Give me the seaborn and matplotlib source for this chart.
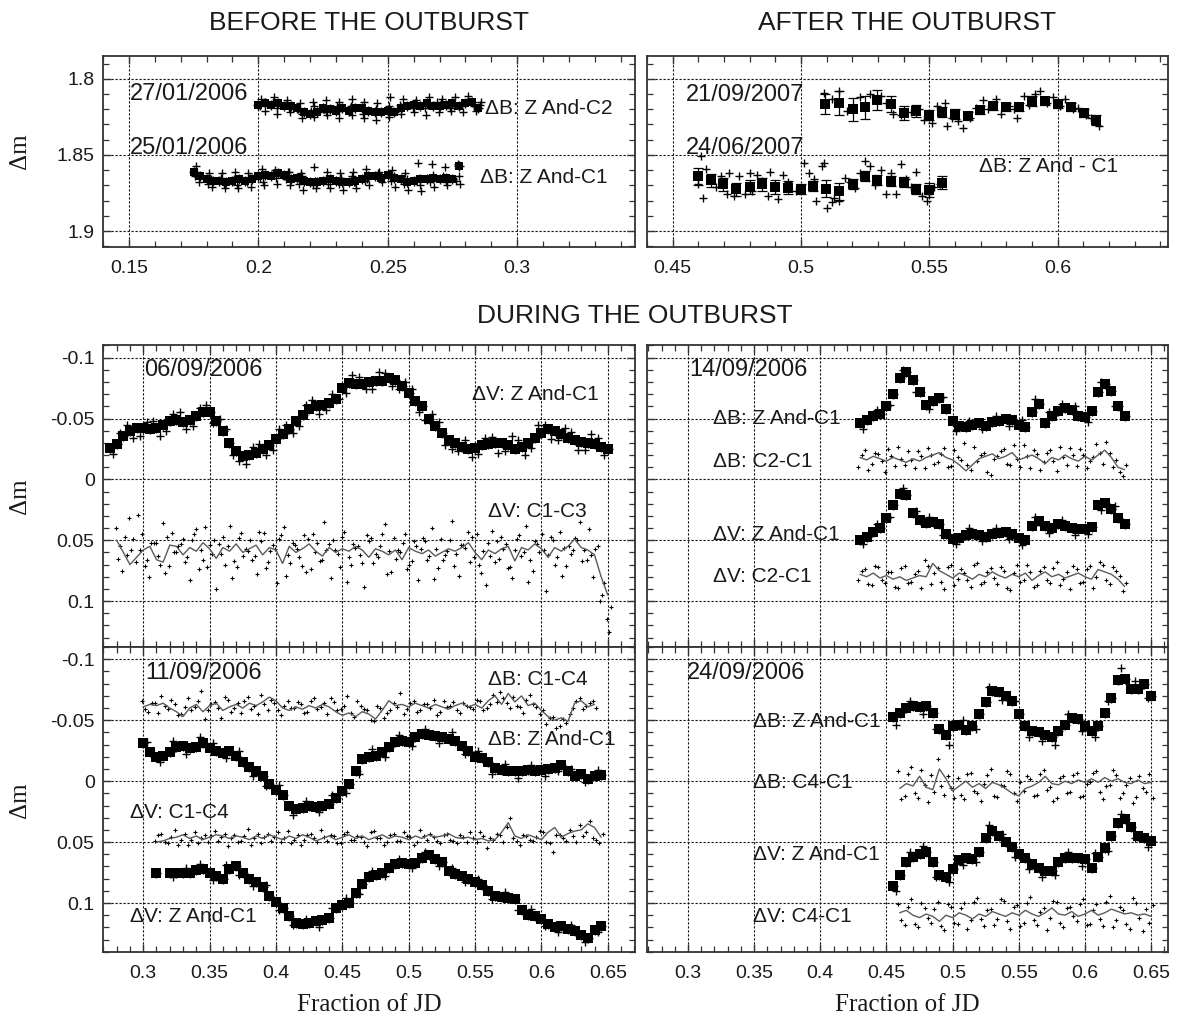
import numpy as np
import matplotlib
matplotlib.use("Agg")
import matplotlib.pyplot as plt
import seaborn as sns
from matplotlib.ticker import MultipleLocator, FuncFormatter

# ---------------- DATA ----------------
# Top-left (before the outburst)
tl_a_y = [1.817, 1.816, 1.817, 1.816, 1.818, 1.818, 1.819, 1.822, 1.823, 1.822,
          1.819, 1.820, 1.821, 1.819, 1.821, 1.819, 1.819, 1.821, 1.822, 1.822,
          1.821, 1.822, 1.819, 1.818, 1.817, 1.818, 1.816, 1.818, 1.818, 1.817,
          1.816, 1.818, 1.816, 1.815, 1.819]
tl_a_hi = [1.813, 1.812, 1.814, 1.816, 1.815, 1.814, 1.815, 1.813, 1.815, 1.816,
           1.812, 1.813, 1.814, 1.812, 1.813, 1.812, 1.811, 1.815]
tl_a_lo = [1.821, 1.823, 1.822, 1.826, 1.825, 1.824, 1.826, 1.824, 1.826, 1.827,
           1.825, 1.823, 1.822, 1.824, 1.822, 1.821, 1.822, 1.821]
tl_a_m1 = [1.818, 1.815, 1.817, 1.820, 1.821, 1.820, 1.818, 1.819, 1.820, 1.821,
           1.818, 1.819, 1.816, 1.817, 1.816, 1.818, 1.815, 1.817]
tl_a_m2 = [1.815, 1.819, 1.819, 1.823, 1.818, 1.822, 1.821, 1.818, 1.823, 1.820,
           1.821, 1.817, 1.819, 1.819, 1.815, 1.819, 1.817, 1.818]
tl_b_y = [1.861, 1.864, 1.866, 1.867, 1.867, 1.868, 1.867, 1.866, 1.867, 1.866,
          1.864, 1.863, 1.864, 1.862, 1.863, 1.866, 1.865, 1.867, 1.868, 1.868,
          1.867, 1.866, 1.867, 1.868, 1.868, 1.867, 1.866, 1.864, 1.864, 1.865,
          1.863, 1.865, 1.866, 1.868, 1.867, 1.866, 1.866, 1.865, 1.866, 1.865,
          1.866, 1.857]
tl_b_hi = [1.857, 1.862, 1.862, 1.861, 1.862, 1.859, 1.860, 1.861, 1.862, 1.858,
           1.861, 1.862, 1.861, 1.859, 1.861, 1.860, 1.862, 1.855, 1.856, 1.858, 1.856]
tl_b_lo = [1.868, 1.871, 1.872, 1.872, 1.871, 1.870, 1.869, 1.870, 1.873, 1.872,
           1.872, 1.873, 1.872, 1.870, 1.868, 1.871, 1.873, 1.874, 1.871, 1.870, 1.869]
tl_b_m1 = [1.864, 1.869, 1.865, 1.866, 1.868, 1.865, 1.862, 1.866, 1.869, 1.870,
           1.866, 1.869, 1.864, 1.867, 1.862, 1.867, 1.869, 1.866, 1.868, 1.864, 1.867]
tl_b_m2 = [1.862, 1.866, 1.869, 1.870, 1.865, 1.868, 1.865, 1.861, 1.864, 1.867,
           1.869, 1.865, 1.868, 1.866, 1.865, 1.864, 1.866, 1.870, 1.863, 1.868, 1.864]

# Top-right (after the outburst)
tr_c_x = [0.5094, 0.5149, 0.5201, 0.5250, 0.5298, 0.5349, 0.5402, 0.5450, 0.5500, 0.5551,
          0.5602, 0.5651, 0.5699, 0.5750, 0.5800, 0.5851, 0.5899, 0.5950, 0.6000, 0.6051,
          0.6101, 0.6151]
tr_c_y = [1.8166, 1.8159, 1.8199, 1.8186, 1.8138, 1.8166, 1.8225, 1.8214, 1.8236, 1.8220,
          1.8229, 1.8242, 1.8203, 1.8177, 1.8186, 1.8186, 1.8144, 1.8144, 1.8166, 1.8186,
          1.8225, 1.8273]
tr_c_err = [0.0066, 0.0076, 0.0076, 0.0076, 0.0066, 0.0055, 0.0044, 0.0040, 0.0033, 0.0033,
            0.0033, 0.0026, 0.0026, 0.0026, 0.0026, 0.0026, 0.0033, 0.0026, 0.0026, 0.0026,
            0.0026, 0.0033]
tr_d_x = [0.4598, 0.4649, 0.4697, 0.4746, 0.4801, 0.4848, 0.4898, 0.4949, 0.5000, 0.5047,
          0.5098, 0.5149, 0.5201, 0.5250, 0.5298, 0.5349, 0.5402, 0.5450, 0.5500, 0.5551]
tr_d_y = [1.8640, 1.8668, 1.8694, 1.8727, 1.8710, 1.8694, 1.8710, 1.8716, 1.8727, 1.8705,
          1.8723, 1.8738, 1.8694, 1.8640, 1.8662, 1.8672, 1.8677, 1.8723, 1.8731, 1.8683]
tr_d_err = [0.0055, 0.0040, 0.0044, 0.0040, 0.0044, 0.0044, 0.0044, 0.0044, 0.0033, 0.0033,
            0.0055, 0.0055, 0.0033, 0.0033, 0.0033, 0.0033, 0.0033, 0.0033, 0.0044, 0.0044]
tr_c_px = [0.509, 0.512, 0.515, 0.518, 0.523, 0.527, 0.531, 0.533, 0.536, 0.539, 0.543, 0.546,
           0.548, 0.551, 0.553, 0.556, 0.557, 0.559, 0.561, 0.563, 0.566, 0.568, 0.571, 0.573,
           0.576, 0.578, 0.581, 0.583, 0.584, 0.587, 0.589, 0.591, 0.593, 0.596, 0.598, 0.601,
           0.603, 0.606, 0.608, 0.611, 0.613, 0.616]
tr_c_py = [1.809, 1.813, 1.808, 1.821, 1.812, 1.810, 1.811, 1.816, 1.823, 1.824, 1.822, 1.820,
           1.827, 1.829, 1.818, 1.816, 1.831, 1.826, 1.828, 1.832, 1.826, 1.819, 1.814, 1.820,
           1.813, 1.823, 1.818, 1.820, 1.826, 1.811, 1.817, 1.810, 1.808, 1.816, 1.812, 1.818,
           1.813, 1.820, 1.819, 1.824, 1.826, 1.831]
tr_d_px = [0.460, 0.461, 0.462, 0.463, 0.465, 0.467, 0.469, 0.471, 0.472, 0.474, 0.476, 0.478,
           0.480, 0.481, 0.483, 0.485, 0.487, 0.488, 0.490, 0.491, 0.493, 0.495, 0.498, 0.501,
           0.503, 0.505, 0.506, 0.508, 0.509, 0.510, 0.512, 0.513, 0.515, 0.517, 0.519, 0.521,
           0.523, 0.525, 0.527, 0.529, 0.531, 0.533, 0.535, 0.537, 0.539, 0.541, 0.543, 0.545,
           0.547, 0.549, 0.550, 0.552, 0.554]
tr_d_py = [1.869, 1.851, 1.878, 1.859, 1.866, 1.871, 1.864, 1.876, 1.862, 1.877, 1.864, 1.876,
           1.862, 1.874, 1.863, 1.867, 1.877, 1.861, 1.872, 1.879, 1.863, 1.868, 1.874, 1.855,
           1.862, 1.866, 1.880, 1.857, 1.855, 1.885, 1.881, 1.878, 1.880, 1.865, 1.868, 1.872,
           1.862, 1.854, 1.857, 1.870, 1.860, 1.876, 1.862, 1.876, 1.856, 1.866, 1.871, 1.861,
           1.877, 1.880, 1.876, 1.871, 1.869]

# Middle-left 06/09/2006
ml_vz_y = [-0.026, -0.029, -0.036, -0.040, -0.042, -0.042, -0.041, -0.042, -0.045, -0.048,
           -0.049, -0.047, -0.049, -0.052, -0.055, -0.055, -0.048, -0.040, -0.030, -0.023,
           -0.019, -0.020, -0.022, -0.025, -0.028, -0.033, -0.037, -0.041, -0.048, -0.053,
           -0.058, -0.060, -0.061, -0.063, -0.066, -0.075, -0.079, -0.078, -0.078, -0.080,
           -0.081, -0.081, -0.083, -0.082, -0.077, -0.071, -0.064, -0.060, -0.050, -0.044,
           -0.038, -0.032, -0.030, -0.027, -0.025, -0.026, -0.028, -0.029, -0.030, -0.030,
           -0.028, -0.025, -0.027, -0.030, -0.034, -0.038, -0.041, -0.040, -0.037, -0.034,
           -0.032, -0.031, -0.030, -0.029, -0.027, -0.025]
ml_vz_p1 = [-0.021, -0.045, -0.036, -0.048, -0.040, -0.055, -0.044, -0.061, -0.050, -0.020,
            -0.013, -0.029, -0.024, -0.045, -0.044, -0.065, -0.057, -0.066, -0.086, -0.074,
            -0.088, -0.077, -0.080, -0.055, -0.054, -0.028, -0.023, -0.018, -0.034, -0.022,
            -0.036, -0.020, -0.045, -0.033, -0.042, -0.024, -0.037, -0.020]
ml_vz_p2 = [-0.038, -0.034, -0.047, -0.036, -0.054, -0.041, -0.059, -0.046, -0.041, -0.015,
            -0.027, -0.020, -0.041, -0.038, -0.061, -0.054, -0.070, -0.071, -0.084, -0.074,
            -0.087, -0.074, -0.074, -0.049, -0.047, -0.025, -0.032, -0.021, -0.035, -0.023,
            -0.032, -0.026, -0.045, -0.032, -0.039, -0.024, -0.034]
ml_c13_line = [0.050, 0.060, 0.070, 0.064, 0.058, 0.055, 0.066, 0.068, 0.054, 0.055,
               0.062, 0.056, 0.059, 0.052, 0.057, 0.065, 0.056, 0.059, 0.053, 0.060,
               0.057, 0.054, 0.062, 0.056, 0.058, 0.069, 0.055, 0.060, 0.057, 0.053,
               0.059, 0.063, 0.056, 0.060, 0.057, 0.059, 0.055, 0.058, 0.064, 0.057,
               0.059, 0.062, 0.058, 0.066, 0.056, 0.059, 0.061, 0.058, 0.063, 0.060,
               0.057, 0.059, 0.056, 0.052, 0.060, 0.066, 0.058, 0.061, 0.057, 0.055,
               0.067, 0.056, 0.058, 0.053, 0.057, 0.064, 0.056, 0.059, 0.055, 0.049,
               0.056, 0.058, 0.062, 0.080, 0.095]
ml_c13_da = [0.040, 0.075, 0.032, 0.068, 0.045, 0.080, 0.052, 0.036, 0.071, 0.060,
             0.049, 0.083, 0.041, 0.066, 0.054, 0.090, 0.047, 0.038, 0.072, 0.063,
             0.050, 0.078, 0.044, 0.059, 0.085, 0.039, 0.069, 0.057, 0.046, 0.074,
             0.052, 0.035, 0.081, 0.061, 0.043, 0.070, 0.055, 0.088, 0.048, 0.064,
             0.037, 0.076, 0.058, 0.045, 0.067, 0.083, 0.051, 0.040, 0.073, 0.062,
             0.034, 0.079, 0.056, 0.047, 0.070, 0.087, 0.042, 0.065, 0.053, 0.081,
             0.046, 0.038, 0.075, 0.060, 0.092, 0.050, 0.043, 0.071, 0.058, 0.035,
             0.066, 0.080, 0.100, 0.115]
ml_c13_db = [0.065, 0.047, 0.058, 0.029, 0.071, 0.052, 0.063, 0.077, 0.044, 0.055,
             0.068, 0.050, 0.074, 0.039, 0.061, 0.053, 0.070, 0.081, 0.048, 0.057,
             0.066, 0.043, 0.073, 0.054, 0.049, 0.079, 0.052, 0.064, 0.076, 0.045,
             0.067, 0.058, 0.050, 0.072, 0.084, 0.053, 0.062, 0.046, 0.069, 0.055,
             0.078, 0.048, 0.060, 0.074, 0.051, 0.057, 0.066, 0.082, 0.049, 0.059,
             0.071, 0.054, 0.043, 0.064, 0.077, 0.052, 0.068, 0.047, 0.073, 0.058,
             0.063, 0.084, 0.051, 0.045, 0.062, 0.070, 0.079, 0.055, 0.048, 0.067,
             0.041, 0.057, 0.095, 0.125]
ml_c13_dc = [0.055, 0.062, 0.049, 0.058, 0.066, 0.052, 0.070, 0.047, 0.060, 0.053,
             0.064, 0.045, 0.058, 0.072, 0.050, 0.061, 0.055, 0.067, 0.044, 0.059,
             0.063, 0.051, 0.068, 0.057, 0.046, 0.062, 0.054, 0.071, 0.049, 0.060,
             0.066, 0.053, 0.058, 0.047, 0.064, 0.056, 0.069, 0.051, 0.061, 0.045,
             0.059, 0.065, 0.052, 0.070, 0.055, 0.048, 0.063, 0.057, 0.066, 0.050,
             0.061, 0.054, 0.068, 0.045, 0.059, 0.063, 0.051, 0.057, 0.072, 0.049,
             0.060, 0.066, 0.053, 0.058, 0.047, 0.064, 0.056, 0.061, 0.050, 0.058,
             0.062, 0.055, 0.085, 0.105]

# Middle-right 14/09/2006
mr_bz_y = [-0.046, -0.049, -0.052, -0.054, -0.060, -0.070, -0.083, -0.088, -0.082, -0.072,
           -0.061, -0.064, -0.067, -0.058, -0.048, -0.044, -0.043, -0.045, -0.046, -0.044,
           -0.047, -0.048, -0.050, -0.049, -0.045, -0.043, -0.055, -0.062, -0.046, -0.052,
           -0.056, -0.059, -0.057, -0.052, -0.051, -0.056, -0.072, -0.078, -0.073, -0.060,
           -0.052]
mr_bz_p = [-0.041, -0.057, -0.061, -0.090, -0.072, -0.058, -0.068, -0.040, -0.048, -0.041,
           -0.052, -0.044, -0.049, -0.066, -0.055, -0.062, -0.060, -0.047, -0.080, -0.060]
mr_bc_line = [-0.018, -0.016, -0.019, -0.017, -0.015, -0.018, -0.016, -0.014, -0.017, -0.015,
              -0.018, -0.020, -0.022, -0.018, -0.016, -0.012, -0.007, -0.012, -0.017, -0.019,
              -0.021, -0.017, -0.019, -0.022, -0.016, -0.018, -0.020, -0.017, -0.013, -0.018,
              -0.016, -0.020, -0.017, -0.015, -0.019, -0.016, -0.020, -0.024, -0.018, -0.010,
              -0.008]
mr_bc_da = [-0.010, -0.024, -0.013, -0.021, -0.006, -0.019, -0.027, -0.012, -0.016, -0.023,
            -0.009, -0.020, -0.014, -0.026, -0.011, -0.018, -0.030, -0.008, -0.015, -0.022,
            -0.004, -0.019, -0.025, -0.012, -0.017, -0.028, -0.009, -0.021, -0.014, -0.024,
            -0.007, -0.018, -0.026, -0.011, -0.020, -0.015, -0.029, -0.013, -0.022, -0.016,
            -0.003]
mr_bc_db = [-0.020, -0.008, -0.022, -0.015, -0.025, -0.011, -0.017, -0.023, -0.009, -0.019,
            -0.026, -0.013, -0.021, -0.010, -0.024, -0.016, -0.012, -0.027, -0.020, -0.006,
            -0.017, -0.023, -0.013, -0.028, -0.010, -0.019, -0.024, -0.008, -0.022, -0.015,
            -0.027, -0.012, -0.020, -0.025, -0.009, -0.018, -0.022, -0.031, -0.010, -0.006,
            -0.012]
mr_vz_y = [0.050, 0.047, 0.043, 0.040, 0.032, 0.021, 0.012, 0.013, 0.028, 0.033,
           0.036, 0.035, 0.037, 0.045, 0.049, 0.048, 0.046, 0.045, 0.046, 0.047,
           0.045, 0.044, 0.043, 0.045, 0.048, 0.050, 0.038, 0.034, 0.038, 0.040,
           0.037, 0.038, 0.040, 0.041, 0.041, 0.039, 0.021, 0.019, 0.024, 0.032,
           0.037]
mr_vz_p = [0.053, 0.037, 0.031, 0.007, 0.026, 0.031, 0.046, 0.053, 0.040, 0.051,
           0.040, 0.049, 0.054, 0.031, 0.044, 0.033, 0.046, 0.045, 0.025, 0.022]
mr_vc_line = [0.078, 0.080, 0.077, 0.081, 0.079, 0.082, 0.080, 0.083, 0.081, 0.079,
              0.080, 0.069, 0.075, 0.078, 0.081, 0.077, 0.079, 0.082, 0.078, 0.080,
              0.076, 0.079, 0.081, 0.078, 0.080, 0.077, 0.083, 0.079, 0.076, 0.080,
              0.078, 0.081, 0.079, 0.077, 0.080, 0.082, 0.074, 0.076, 0.078, 0.082,
              0.088]
mr_vc_da = [0.083, 0.074, 0.087, 0.072, 0.085, 0.076, 0.089, 0.071, 0.084, 0.075,
            0.066, 0.086, 0.073, 0.090, 0.070, 0.082, 0.077, 0.088, 0.069, 0.084,
            0.073, 0.086, 0.075, 0.091, 0.070, 0.083, 0.076, 0.087, 0.072, 0.085,
            0.068, 0.082, 0.090, 0.074, 0.084, 0.071, 0.080, 0.070, 0.086, 0.075,
            0.092]
mr_vc_db = [0.075, 0.086, 0.071, 0.083, 0.076, 0.088, 0.073, 0.085, 0.078, 0.089,
            0.071, 0.077, 0.084, 0.072, 0.087, 0.074, 0.083, 0.070, 0.086, 0.076,
            0.081, 0.072, 0.089, 0.077, 0.084, 0.070, 0.088, 0.075, 0.083, 0.073,
            0.087, 0.076, 0.071, 0.085, 0.074, 0.089, 0.068, 0.083, 0.072, 0.079,
            0.085]

# Bottom-left 11/09/2006
bl_bc_line = [-0.061, -0.063, -0.062, -0.064, -0.060, -0.057, -0.053, -0.060, -0.063, -0.057,
              -0.062, -0.064, -0.058, -0.061, -0.063, -0.060, -0.064, -0.062, -0.065, -0.069,
              -0.066, -0.060, -0.058, -0.061, -0.059, -0.062, -0.060, -0.063, -0.061, -0.057,
              -0.054, -0.056, -0.053, -0.057, -0.055, -0.051, -0.058, -0.066, -0.062, -0.063,
              -0.061, -0.064, -0.062, -0.060, -0.063, -0.061, -0.059, -0.062, -0.064, -0.061,
              -0.063, -0.060, -0.066, -0.070, -0.063, -0.072, -0.065, -0.070, -0.062, -0.064,
              -0.058, -0.053, -0.050, -0.052, -0.049, -0.064, -0.066, -0.061, -0.063]
bl_bc_da = [-0.066, -0.057, -0.064, -0.070, -0.059, -0.063, -0.055, -0.068, -0.061, -0.074,
            -0.058, -0.065, -0.052, -0.067, -0.060, -0.056, -0.069, -0.062, -0.071, -0.058,
            -0.064, -0.054, -0.066, -0.060, -0.063, -0.057, -0.068, -0.061, -0.055, -0.065,
            -0.059, -0.070, -0.053, -0.062, -0.058, -0.049, -0.060, -0.056, -0.064, -0.072,
            -0.059, -0.066, -0.058, -0.063, -0.067, -0.057, -0.061, -0.065, -0.056, -0.062,
            -0.059, -0.066, -0.060, -0.071, -0.073, -0.064, -0.069, -0.061, -0.067, -0.063,
            -0.055, -0.047, -0.053, -0.045, -0.048, -0.060, -0.068, -0.062, -0.066]
bl_bc_db = [-0.059, -0.064, -0.056, -0.062, -0.067, -0.054, -0.061, -0.058, -0.066, -0.051,
            -0.063, -0.060, -0.069, -0.057, -0.064, -0.066, -0.059, -0.055, -0.063, -0.067,
            -0.058, -0.062, -0.060, -0.065, -0.056, -0.066, -0.059, -0.064, -0.068, -0.058,
            -0.062, -0.056, -0.066, -0.059, -0.050, -0.062, -0.052, -0.058, -0.061, -0.055,
            -0.064, -0.057, -0.063, -0.060, -0.054, -0.066, -0.062, -0.058, -0.064, -0.061,
            -0.067, -0.058, -0.063, -0.065, -0.068, -0.060, -0.062, -0.056, -0.071, -0.061,
            -0.058, -0.052, -0.044, -0.051, -0.055, -0.066, -0.059, -0.064, -0.060]
bl_bz_y = [-0.031, -0.024, -0.020, -0.021, -0.024, -0.028, -0.029, -0.027, -0.028, -0.031,
           -0.027, -0.025, -0.023, -0.025, -0.021, -0.016, -0.012, -0.008, -0.004, 0.002,
           0.007, 0.011, 0.020, 0.023, 0.022, 0.020, 0.021, 0.020, 0.019, 0.014,
           0.008, 0.002, -0.008, -0.018, -0.020, -0.021, -0.024, -0.028, -0.032, -0.033,
           -0.032, -0.036, -0.039, -0.038, -0.037, -0.036, -0.035, -0.033, -0.029, -0.025,
           -0.020, -0.019, -0.016, -0.011, -0.009, -0.008, -0.008, -0.008, -0.009, -0.008,
           -0.009, -0.010, -0.011, -0.013, -0.008, -0.004, -0.006, -0.002, -0.004, -0.005]
bl_bz_p = [-0.032, -0.016, -0.033, -0.022, -0.036, -0.031, -0.019, -0.025, -0.004, 0.004,
           0.003, 0.028, 0.016, 0.025, 0.011, 0.010, -0.006, -0.026, -0.020, -0.038,
           -0.029, -0.043, -0.031, -0.040, -0.022, -0.025, -0.006, -0.014, -0.003, -0.013,
           -0.004, -0.008, -0.010, 0.001, -0.009]
bl_vc_line = [0.050, 0.049, 0.047, 0.046, 0.044, 0.047, 0.045, 0.048, 0.046, 0.044,
              0.045, 0.047, 0.045, 0.046, 0.048, 0.045, 0.047, 0.044, 0.046, 0.048,
              0.045, 0.047, 0.044, 0.046, 0.049, 0.047, 0.045, 0.048, 0.046, 0.044,
              0.047, 0.045, 0.048, 0.046, 0.044, 0.047, 0.045, 0.046, 0.048, 0.045,
              0.047, 0.044, 0.046, 0.045, 0.043, 0.046, 0.047, 0.046, 0.048, 0.047,
              0.049, 0.048, 0.042, 0.034, 0.045, 0.047, 0.044, 0.046, 0.048, 0.042,
              0.038, 0.046, 0.043, 0.041, 0.040, 0.035, 0.038, 0.046]
bl_vc_da = [0.049, 0.043, 0.051, 0.040, 0.048, 0.052, 0.042, 0.047, 0.050, 0.041,
            0.046, 0.053, 0.044, 0.049, 0.039, 0.047, 0.051, 0.043, 0.046, 0.050,
            0.041, 0.048, 0.052, 0.044, 0.047, 0.040, 0.049, 0.045, 0.051, 0.042,
            0.048, 0.046, 0.053, 0.041, 0.047, 0.050, 0.043, 0.049, 0.045, 0.052,
            0.040, 0.048, 0.046, 0.051, 0.043, 0.049, 0.044, 0.050, 0.047, 0.042,
            0.055, 0.048, 0.044, 0.038, 0.047, 0.052, 0.045, 0.049, 0.041, 0.050,
            0.058, 0.044, 0.049, 0.045, 0.036, 0.042, 0.047, 0.051]
bl_vc_db = [0.044, 0.050, 0.046, 0.052, 0.043, 0.048, 0.051, 0.044, 0.045, 0.049,
            0.043, 0.047, 0.050, 0.045, 0.052, 0.043, 0.046, 0.049, 0.042, 0.047,
            0.051, 0.044, 0.048, 0.043, 0.050, 0.046, 0.044, 0.051, 0.043, 0.048,
            0.045, 0.050, 0.042, 0.047, 0.052, 0.044, 0.049, 0.042, 0.046, 0.050,
            0.045, 0.043, 0.049, 0.044, 0.048, 0.051, 0.046, 0.042, 0.050, 0.045,
            0.047, 0.043, 0.050, 0.030, 0.049, 0.044, 0.048, 0.046, 0.042, 0.051,
            0.044, 0.047, 0.040, 0.050, 0.045, 0.033, 0.048, 0.043]
bl_vz_y = [0.075, np.nan, 0.075, 0.075, 0.075, 0.075, 0.073, 0.072, 0.075, 0.078,
           0.080, 0.072, 0.070, 0.075, 0.080, 0.083, 0.087, 0.094, 0.099, 0.104,
           0.111, 0.116, 0.117, 0.116, 0.115, 0.114, 0.112, 0.104, 0.102, 0.100,
           0.092, 0.084, 0.079, 0.077, 0.075, 0.071, 0.068, 0.067, 0.068, 0.067,
           0.063, 0.061, 0.064, 0.066, 0.074, 0.076, 0.078, 0.080, 0.083, 0.085,
           0.090, 0.094, 0.095, 0.096, 0.097, 0.106, 0.110, 0.111, 0.113, 0.117,
           0.120, 0.119, 0.121, 0.123, 0.126, 0.129, 0.122, 0.119]
bl_vz_p = [0.079, 0.071, 0.068, 0.081, 0.069, 0.077, 0.086, 0.085, 0.106, 0.118,
           0.113, 0.120, 0.104, 0.096, 0.093, 0.074, 0.078, 0.064, 0.071, 0.058,
           0.070, 0.071, 0.083, 0.080, 0.097, 0.091, 0.106, 0.105, 0.119, 0.124,
           0.118, 0.132, 0.124]

# Bottom-right 24/09/2006
br_bz_y = [-0.053, -0.056, -0.060, -0.062, -0.061, -0.062, -0.056, -0.043, -0.038, -0.045,
           -0.046, -0.042, -0.045, -0.055, -0.065, -0.074, -0.073, -0.070, -0.066, -0.055,
           -0.045, -0.041, -0.040, -0.038, -0.036, -0.041, -0.046, -0.052, -0.051, -0.045,
           -0.041, -0.045, -0.056, -0.068, -0.083, -0.084, -0.076, -0.076, -0.080, -0.070]
br_bz_p = [-0.046, -0.066, -0.055, -0.043, -0.030, -0.050, -0.043, -0.077, -0.067, -0.066,
           -0.036, -0.033, -0.030, -0.055, -0.041, -0.036, -0.066, -0.093, -0.082, -0.068]
br_bc_line = [0.006, 0.002, 0.004, -0.004, 0.005, 0.007, -0.010, -0.002, 0.008, 0.004,
              0.000, 0.005, 0.002, 0.006, 0.001, 0.003, 0.006, 0.010, 0.012, 0.006,
              0.004, 0.001, -0.004, 0.002, 0.003, 0.000, 0.002, -0.001, 0.001, -0.002,
              0.001, -0.003, 0.000, -0.002, 0.001, 0.002, -0.001, 0.002, 0.001]
br_bc_da = [-0.008, 0.012, -0.012, 0.014, 0.003, -0.005, -0.018, 0.011, 0.006, -0.003,
            0.015, -0.007, 0.010, 0.002, -0.010, 0.013, 0.004, -0.006, 0.016, 0.008,
            -0.002, 0.011, -0.009, 0.005, 0.014, -0.004, 0.009, -0.007, 0.012, 0.001,
            -0.008, 0.015, 0.003, -0.005, 0.010, -0.003, 0.013, 0.006, -0.006]
br_bc_db = [0.015, -0.006, 0.010, -0.009, 0.017, 0.009, 0.004, -0.004, 0.014, 0.011,
            -0.006, 0.008, 0.016, -0.005, 0.012, 0.003, -0.008, 0.010, 0.001, -0.004,
            0.012, -0.006, 0.007, 0.016, -0.003, 0.010, -0.005, 0.013, 0.002, -0.007,
            0.009, 0.004, -0.009, 0.014, 0.003, 0.018, -0.004, 0.009, 0.014]
br_vz_y = [0.086, 0.077, 0.066, 0.062, 0.060, 0.058, 0.066, 0.077, 0.079, 0.072,
           0.065, 0.063, 0.064, 0.058, 0.047, 0.041, 0.045, 0.050, 0.054, 0.060,
           0.063, 0.068, 0.071, 0.074, 0.074, 0.066, 0.063, 0.063, 0.063, 0.064,
           0.071, 0.062, 0.055, 0.045, 0.034, 0.031, 0.038, 0.045, 0.047, 0.049]
br_vz_p = [0.090, 0.058, 0.053, 0.079, 0.083, 0.069, 0.066, 0.036, 0.043, 0.062,
           0.072, 0.079, 0.077, 0.058, 0.070, 0.059, 0.057, 0.027, 0.047, 0.054]
br_vc_line = [0.108, 0.106, 0.110, 0.112, 0.109, 0.111, 0.115, 0.110, 0.112, 0.108,
              0.110, 0.113, 0.109, 0.111, 0.107, 0.109, 0.111, 0.108, 0.110, 0.106,
              0.109, 0.111, 0.108, 0.104, 0.109, 0.110, 0.107, 0.111, 0.109, 0.106,
              0.110, 0.108, 0.105, 0.107, 0.109, 0.108, 0.110, 0.109, 0.111]
br_vc_da = [0.101, 0.118, 0.097, 0.120, 0.104, 0.116, 0.099, 0.122, 0.103, 0.117,
            0.100, 0.114, 0.096, 0.119, 0.105, 0.113, 0.098, 0.121, 0.102, 0.116,
            0.095, 0.118, 0.104, 0.112, 0.099, 0.120, 0.103, 0.115, 0.097, 0.117,
            0.101, 0.119, 0.094, 0.114, 0.106, 0.121, 0.100, 0.123, 0.116]
br_vc_db = [0.114, 0.103, 0.117, 0.100, 0.112, 0.105, 0.119, 0.101, 0.116, 0.104,
            0.121, 0.099, 0.113, 0.106, 0.118, 0.097, 0.115, 0.103, 0.119, 0.100,
            0.114, 0.107, 0.122, 0.098, 0.116, 0.104, 0.111, 0.101, 0.118, 0.106,
            0.113, 0.099, 0.120, 0.103, 0.117, 0.096, 0.112, 0.105, 0.102]

# ---------------- STYLE ----------------
sns.set_theme(style="white")
plt.rcParams['font.family'] = ['Liberation Sans', 'DejaVu Sans']
plt.rcParams['axes.unicode_minus'] = False

W, H = 1177, 1017
fig = plt.figure(figsize=(W / 100, H / 100), dpi=100)
fig.patch.set_facecolor('white')

SERIF = ['Liberation Serif', 'DejaVu Serif']
INK = '#1a1a1a'


def grid_x(x0, x1, vals):
    return np.linspace(x0, x1, len(vals))


def make_ax(l, r, t, b):
    return fig.add_axes([l / W, 1 - b / H, (r - l) / W, (b - t) / H])


def fmt(v, pos):
    if abs(v) < 1e-9:
        return '0'
    return f'{v:.2f}'.rstrip('0').rstrip('.')


def style(ax, xlim, ylim, xlab=True, ylab=True):
    ax.set_xlim(*xlim)
    ax.set_ylim(*ylim)
    for axis in (ax.xaxis, ax.yaxis):
        axis.set_major_locator(MultipleLocator(0.05))
        axis.set_minor_locator(MultipleLocator(0.01))
        axis.set_major_formatter(FuncFormatter(fmt))
    ax.tick_params(which='both', direction='in', top=True, right=True, bottom=True, left=True,
                   labelsize=14, labelcolor=INK, color='#333333')
    ax.tick_params(which='major', length=6, width=1.0)
    ax.tick_params(which='minor', length=4.5, width=0.9)
    ax.tick_params(axis='x', pad=9)
    ax.tick_params(axis='y', pad=6)
    ax.tick_params(labelbottom=xlab, labelleft=ylab)
    ax.grid(True, which='major', color='#111111', linestyle=(0, (2.0, 1.6)), linewidth=0.8)
    ax.set_axisbelow(True)
    for sp in ax.spines.values():
        sp.set_linewidth(1.3)
        sp.set_color('#333333')
        sp.set_visible(True)
    ax.set_xlabel('')
    ax.set_ylabel('')


def squares(ax, x, y, s=60):
    sns.scatterplot(x=x, y=y, ax=ax, marker='s', s=s, color='black', linewidth=0,
                    legend=False, zorder=3)


def crosses(ax, x, y, s=40, lw=1.0):
    sns.scatterplot(x=x, y=y, ax=ax, marker='+', s=s, color='black', linewidth=lw,
                    legend=False, zorder=3)


def band(ax, x0, x1, y, s_sq=60, s_pl=42):
    xs = grid_x(x0, x1, y)
    squares(ax, xs, y, s_sq)
    crosses(ax, xs, y, s_pl)


def noisy(ax, x0, x1, line, dots):
    step = (x1 - x0) / (len(line) - 1)
    for i, d in enumerate(dots):
        off = step * (i - 0.5) / max(len(dots), 1)
        crosses(ax, grid_x(x0 + off, x1 + off, d), d, s=8, lw=0.8)
    sns.lineplot(x=grid_x(x0, x1, line), y=line, ax=ax, color='#5a5a5a', linewidth=1.0,
                 estimator=None, sort=False, legend=False, zorder=4)


def label(ax, x, y, s, size=15):
    ax.text(x, y, s, fontsize=size, color=INK, ha='left', va='center', zorder=5)


DATE = 17

# ---------------- TOP LEFT ----------------
ax_tl = make_ax(103, 635, 56, 247)
band(ax_tl, 0.200, 0.285, tl_a_y, s_sq=40)
crosses(ax_tl, grid_x(0.201, 0.286, tl_a_hi), tl_a_hi)
crosses(ax_tl, grid_x(0.2025, 0.284, tl_a_lo), tl_a_lo)
crosses(ax_tl, grid_x(0.2005, 0.2855, tl_a_m1), tl_a_m1)
crosses(ax_tl, grid_x(0.2025, 0.2835, tl_a_m2), tl_a_m2)
band(ax_tl, 0.175, 0.2775, tl_b_y, s_sq=40)
crosses(ax_tl, grid_x(0.176, 0.277, tl_b_hi), tl_b_hi)
crosses(ax_tl, grid_x(0.177, 0.278, tl_b_lo), tl_b_lo)
crosses(ax_tl, grid_x(0.1755, 0.2765, tl_b_m1), tl_b_m1)
crosses(ax_tl, grid_x(0.1765, 0.2775, tl_b_m2), tl_b_m2)
style(ax_tl, (0.14, 0.3455), (1.9105, 1.785))
label(ax_tl, 0.1503, 1.810, '27/01/2006', DATE)
label(ax_tl, 0.1503, 1.8455, '25/01/2006', DATE)
label(ax_tl, 0.2875, 1.8195, 'ΔB: Z And-C2')
label(ax_tl, 0.2858, 1.865, 'ΔB: Z And-C1')

# ---------------- TOP RIGHT ----------------
ax_tr = make_ax(647, 1168, 56, 247)
crosses(ax_tr, tr_c_px, tr_c_py)
crosses(ax_tr, tr_d_px, tr_d_py)
ax_tr.errorbar(tr_c_x, tr_c_y, yerr=tr_c_err, fmt='none', ecolor='black', elinewidth=0.9,
               capsize=3.5, capthick=0.9, zorder=3)
ax_tr.errorbar(tr_d_x, tr_d_y, yerr=tr_d_err, fmt='none', ecolor='black', elinewidth=0.9,
               capsize=3.5, capthick=0.9, zorder=3)
squares(ax_tr, tr_c_x, tr_c_y, s=48)
squares(ax_tr, tr_d_x, tr_d_y, s=48)
style(ax_tr, (0.44, 0.643), (1.9105, 1.785), ylab=False)
label(ax_tr, 0.4552, 1.8105, '21/09/2007', DATE)
label(ax_tr, 0.4552, 1.8455, '24/06/2007', DATE)
label(ax_tr, 0.5692, 1.8574, 'ΔB: Z And - C1')

# ---------------- MIDDLE LEFT ----------------
ax_ml = make_ax(103, 635, 345, 647)
band(ax_ml, 0.275, 0.650, ml_vz_y)
crosses(ax_ml, grid_x(0.2775, 0.6475, ml_vz_p1), ml_vz_p1)
crosses(ax_ml, grid_x(0.2825, 0.6425, ml_vz_p2), ml_vz_p2)
noisy(ax_ml, 0.280, 0.650, ml_c13_line, [ml_c13_da, ml_c13_db, ml_c13_dc])
style(ax_ml, (0.2697, 0.6705), (0.1377, -0.1104), xlab=False)
label(ax_ml, 0.3005, -0.0895, '06/09/2006', DATE)
label(ax_ml, 0.548, -0.0700, 'ΔV: Z And-C1')
label(ax_ml, 0.5595, 0.0260, 'ΔV: C1-C3')

# ---------------- MIDDLE RIGHT ----------------
ax_mr = make_ax(647, 1168, 345, 647)
band(ax_mr, 0.430, 0.630, mr_bz_y)
crosses(ax_mr, grid_x(0.4325, 0.6225, mr_bz_p), mr_bz_p)
noisy(ax_mr, 0.430, 0.630, mr_bc_line, [mr_bc_da, mr_bc_db])
band(ax_mr, 0.430, 0.630, mr_vz_y)
crosses(ax_mr, grid_x(0.4325, 0.6225, mr_vz_p), mr_vz_p)
noisy(ax_mr, 0.430, 0.630, mr_vc_line, [mr_vc_da, mr_vc_db])
style(ax_mr, (0.269, 0.6628), (0.1377, -0.1104), xlab=False, ylab=False)
label(ax_mr, 0.3008, -0.0895, '14/09/2006', DATE)
label(ax_mr, 0.3190, -0.0500, 'ΔB: Z And-C1')
label(ax_mr, 0.3190, -0.0150, 'ΔB: C2-C1')
label(ax_mr, 0.3190, 0.0450, 'ΔV: Z And-C1')
label(ax_mr, 0.3190, 0.0795, 'ΔV: C2-C1')

# ---------------- BOTTOM LEFT ----------------
ax_bl = make_ax(103, 635, 647, 952)
noisy(ax_bl, 0.300, 0.640, bl_bc_line, [bl_bc_da, bl_bc_db])
band(ax_bl, 0.300, 0.645, bl_bz_y)
crosses(ax_bl, grid_x(0.3025, 0.6425, bl_bz_p), bl_bz_p)
noisy(ax_bl, 0.310, 0.645, bl_vc_line, [bl_vc_da, bl_vc_db])
band(ax_bl, 0.310, 0.645, bl_vz_y)
crosses(ax_bl, grid_x(0.3225, 0.6425, bl_vz_p), bl_vz_p)
style(ax_bl, (0.2697, 0.6705), (0.1402, -0.1101))
label(ax_bl, 0.3014, -0.0890, '11/09/2006', DATE)
label(ax_bl, 0.5595, -0.0836, 'ΔB: C1-C4')
label(ax_bl, 0.5595, -0.0340, 'ΔB: Z And-C1')
label(ax_bl, 0.2900, 0.0260, 'ΔV: C1-C4')
label(ax_bl, 0.2900, 0.1110, 'ΔV: Z And-C1')

# ---------------- BOTTOM RIGHT ----------------
ax_br = make_ax(647, 1168, 647, 952)
band(ax_br, 0.455, 0.650, br_bz_y)
crosses(ax_br, grid_x(0.4575, 0.6475, br_bz_p), br_bz_p)
noisy(ax_br, 0.460, 0.650, br_bc_line, [br_bc_da, br_bc_db])
band(ax_br, 0.455, 0.650, br_vz_y)
crosses(ax_br, grid_x(0.4575, 0.6475, br_vz_p), br_vz_p)
noisy(ax_br, 0.460, 0.650, br_vc_line, [br_vc_da, br_vc_db])
style(ax_br, (0.269, 0.6628), (0.1402, -0.1101), ylab=False)
label(ax_br, 0.2989, -0.0890, '24/09/2006', DATE)
label(ax_br, 0.3489, -0.0490, 'ΔB: Z And-C1')
label(ax_br, 0.3489, 0.0010, 'ΔB: C4-C1')
label(ax_br, 0.3489, 0.0600, 'ΔV: Z And-C1')
label(ax_br, 0.3489, 0.1110, 'ΔV: C4-C1')

# ---------------- TITLES & AXIS LABELS ----------------
fig.text(369 / W, 1 - 23 / H, 'BEFORE THE OUTBURST', fontsize=19, color=INK, ha='center', va='center')
fig.text(907 / W, 1 - 23 / H, 'AFTER THE OUTBURST', fontsize=19, color=INK, ha='center', va='center')
fig.text(635 / W, 1 - 316 / H, 'DURING THE OUTBURST', fontsize=19, color=INK, ha='center', va='center')
for yc in (151, 496, 800):
    fig.text(20 / W, 1 - yc / H, 'Δm', fontsize=18, family=SERIF, color=INK,
             rotation=90, ha='center', va='center')
for xc in (369, 907):
    fig.text(xc / W, 1 - 1005 / H, 'Fraction of JD', fontsize=18, family=SERIF, color=INK,
             ha='center', va='center')

fig.savefig('out.png', dpi=100, facecolor='white')
